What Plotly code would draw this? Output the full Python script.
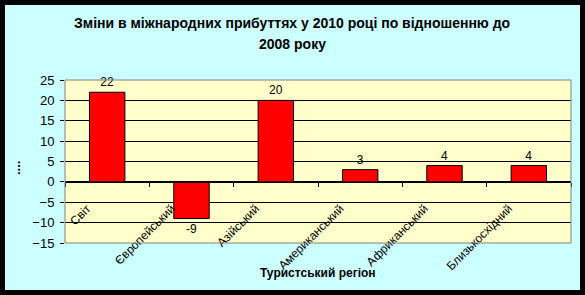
import plotly.graph_objects as go

categories = ["Світ", "Європейський", "Азійський", "Американський", "Африканський", "Близькосхідний"]
values = [22, -9, 20, 3, 4, 4]
y_ticks = [-15, -10, -5, 0, 5, 10, 15, 20, 25]
title_lines = ["Зміни в міжнародних прибуттях у 2010 році по відношенню до", "2008 року"]

W, H = 585, 295
L, R, T, B = 65, 14, 80, 52
pw, ph = W - L - R, H - T - B

def px(x):
    return (x - L) / pw

def py(y):
    return (H - B - y) / ph

FONT = "Liberation Sans, Arial, sans-serif"

fig = go.Figure()
fig.add_trace(go.Bar(
    x=categories, y=values,
    marker=dict(color="#FF0000", line=dict(color="black", width=1)),
    text=[str(v) for v in values], textposition="outside",
    textfont=dict(family=FONT, size=12, color="black"),
    cliponaxis=False,
))

annotations = [
    dict(text=f"<b>{line}</b>", xref="paper", yref="paper",
         x=px(292), y=py(yy), xanchor="center", yanchor="middle", showarrow=False,
         font=dict(family=FONT, size=14, color="black"))
    for line, yy in zip(title_lines, [23, 44])
]
annotations += [
    dict(text="<b>Туристський регіон</b>", xref="paper", yref="paper",
         x=px(318), y=py(273), xanchor="center", yanchor="middle", showarrow=False,
         font=dict(family=FONT, size=12, color="black")),
    dict(text="<b>....</b>", xref="paper", yref="paper",
         x=px(15), y=py(168), xanchor="center", yanchor="middle", showarrow=False,
         textangle=-90, font=dict(family=FONT, size=13, color="black")),
]

fig.update_layout(
    width=W, height=H,
    margin=dict(l=L, r=R, t=T, b=B),
    paper_bgcolor="#CCFFFF",
    plot_bgcolor="#FFFFCC",
    bargap=0.58,
    showlegend=False,
    font=dict(family=FONT, size=12, color="black"),
    xaxis=dict(
        anchor="free", position=15 / 40,
        showline=True, linecolor="black", linewidth=1,
        ticks="outside", ticklen=4, tickcolor="black", tickson="boundaries",
        tickangle=-45, tickfont=dict(family=FONT, size=12, color="black"),
        ticklabelstandoff=14, ticklabelshift=-20,
        showgrid=False,
        title=None,
    ),
    yaxis=dict(
        range=[-15, 25], tickvals=y_ticks,
        showgrid=True, gridcolor="black", gridwidth=1,
        zeroline=False,
        ticks="outside", ticklen=4, tickcolor="black",
        ticklabelstandoff=3,
        tickfont=dict(family=FONT, size=13, color="black"),
        showline=False,
        title=None,
    ),
    shapes=[
        dict(type="rect", xref="paper", yref="paper", x0=0, x1=1, y0=0, y1=1,
             line=dict(color="#808080", width=1), fillcolor="rgba(0,0,0,0)", layer="above"),
        dict(type="rect", xref="paper", yref="paper",
             x0=px(0), x1=px(W), y0=py(H), y1=py(0),
             line=dict(color="black", width=10), fillcolor="rgba(0,0,0,0)", layer="above"),
    ],
    annotations=annotations,
)

fig.write_html("out.html")
